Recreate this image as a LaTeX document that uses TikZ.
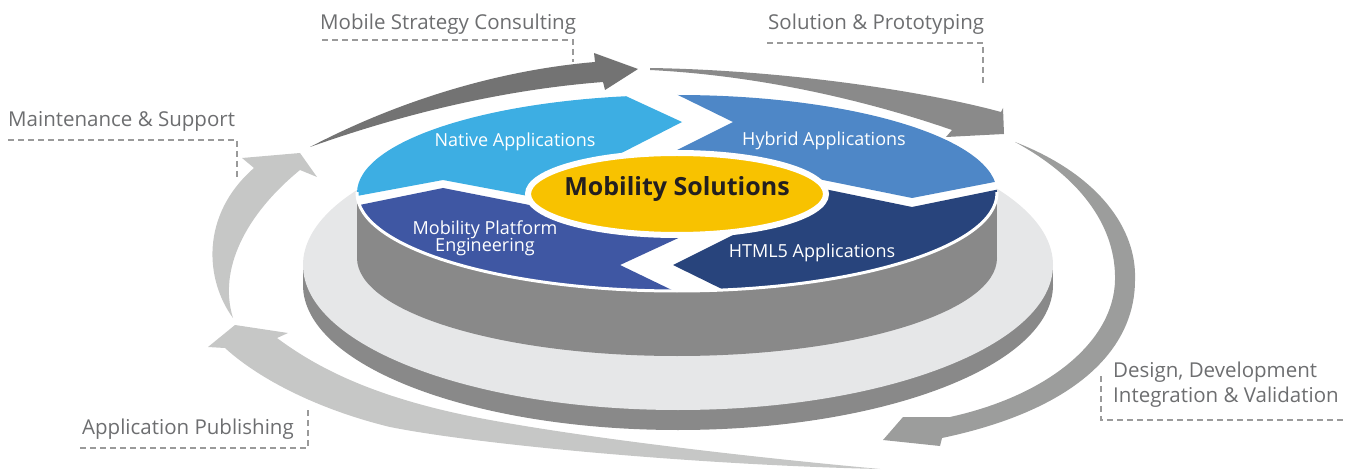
\documentclass[tikz,border=0pt]{standalone}
\usepackage{fontspec}
\setmainfont{Open Sans}
\definecolor{arrA}{HTML}{737373}
\definecolor{arrB}{HTML}{8A8A8A}
\definecolor{arrC}{HTML}{9C9D9C}
\definecolor{arrD}{HTML}{C6C7C6}
\definecolor{sidegray}{HTML}{898989}
\definecolor{topgray}{HTML}{E6E7E8}
\definecolor{native}{HTML}{3DAEE3}
\definecolor{hybrid}{HTML}{4E87C7}
\definecolor{mpe}{HTML}{3F57A3}
\definecolor{htmlc}{HTML}{28447C}
\definecolor{yel}{HTML}{F8C200}
\definecolor{lbl}{HTML}{6D6E70}
\definecolor{lead}{HTML}{9A9A9A}
\definecolor{dark}{HTML}{231F20}
\begin{document}
\begin{tikzpicture}[x=1pt,y=-1pt,
  steplabel/.style={text=lbl,inner sep=0pt,font=\fontsize{20.5}{25}\selectfont},
  seglabel/.style={text=white,inner sep=0pt,font=\fontsize{18}{18}\selectfont,align=center},
  leader/.style={lead,line width=2pt,dash pattern=on 6pt off 4pt}]
\useasboundingbox (0,0) rectangle (1354,470);

% ---------- cycle arrows ----------
\fill[arrA] (310,147) .. controls (400,100) and (500,70) .. (595,62)
  -- (594,53) -- (638,69) -- (605,90) -- (603,82)
  .. controls (500,90) and (400,115) .. (310,147) -- cycle;
\fill[arrB] (650,68) .. controls (780,70) and (920,90) .. (1001,112)
  -- (1003,108) -- (1004,134) -- (946,137) -- (952,130)
  .. controls (880,105) and (770,76) .. (650,70) -- cycle;
\fill[arrC] (1015,142) .. controls (1100,175) and (1137,230) .. (1135,280)
  .. controls (1135,350) and (1075,410) .. (942,438)
  -- (940,446) -- (883,440) -- (903,417) -- (950,417)
  .. controls (1050,395) and (1114,340) .. (1115,280)
  .. controls (1116,230) and (1085,180) .. (1015,142) -- cycle;
\fill[arrD] (880,469) .. controls (700,465) and (480,445) .. (390,427)
  .. controls (320,410) and (260,380) .. (225,348)
  -- (208,347) -- (235,325) -- (288,333) -- (277,338)
  .. controls (320,370) and (380,400) .. (490,420)
  .. controls (600,440) and (760,458) .. (880,469) -- cycle;
\fill[arrD] (233,318) .. controls (205,280) and (200,215) .. (254,168)
  -- (242,158) -- (300,153) -- (317,177) -- (300,170)
  .. controls (245,215) and (218,270) .. (233,318) -- cycle;

% ---------- lower platter ----------
\fill[sidegray] (303,265) rectangle (1053,285);
\fill[sidegray] (678,285) ellipse[x radius=375,y radius=145];
\fill[topgray] (678,265) ellipse[x radius=375,y radius=145];

% ---------- upper platter ----------
\fill[sidegray] (357,193) rectangle (997,258);
\fill[sidegray] (677,258) ellipse[x radius=320,y radius=98];
\begin{scope}
  \clip (677,193) ellipse[x radius=320,y radius=98];
  \fill[white] (340,80) rectangle (1010,300);
  \fill[native] (330,50) -- (526,50) -- (682,122) -- (600,164) -- (560,202) -- (443,180) -- (330,201) -- cycle;
  \fill[hybrid] (586,50) -- (1010,50) -- (1010,179) -- (912,198) -- (823,180) -- (790,173) -- (663,157) -- (733,122) -- cycle;
  \fill[htmlc] (1010,187) -- (1010,320) -- (785,320) -- (673,265) -- (727,238) -- (760,222) -- (800,184) -- (912,207) -- cycle;
  \fill[mpe] (330,211) -- (443,188) -- (560,211) -- (700,228) -- (620,265) -- (734,320) -- (330,320) -- cycle;
\end{scope}
\begin{scope}
  \clip (340,193) rectangle (1010,300);
  \draw[white,line width=3pt] (677,193) ellipse[x radius=320,y radius=98];
\end{scope}
\draw[white,line width=6pt,fill=yel] (677,194) ellipse[x radius=149,y radius=41];

% ---------- texts ----------
\node[inner sep=0pt,anchor=base,text=dark,font=\fontsize{25}{25}\selectfont\bfseries] (core) at (677,196) {Mobility Solutions};
\node[seglabel,anchor=base] (nat) at (515,147) {Native Applications};
\node[seglabel,anchor=base] (hyb) at (824,146) {Hybrid Applications};
\node[seglabel,anchor=base] (mpe1) at (485,235) {Mobility Platform};
\node[seglabel,anchor=base] (mpe2) at (485,252) {Engineering};
\node[seglabel,anchor=base] (htm) at (812,258) {HTML5 Applications};

\node[steplabel,anchor=base west] (msc) at (320,30) {Mobile Strategy Consulting};
\node[steplabel,anchor=base west] (sp) at (768,30) {Solution \& Prototyping};
\node[steplabel,anchor=base west] (ms) at (8,127) {Maintenance \& Support};
\node[steplabel,anchor=base west] (ap) at (82,434) {Application Publishing};
\node[steplabel,anchor=base west] (dd1) at (1113,377) {Design, Development};
\node[steplabel,anchor=base west] (dd2) at (1113,402) {Integration \& Validation};

% ---------- dashed leaders ----------
\coordinate (mscA) at (322,40); \coordinate (mscB) at (573,40); \coordinate (mscC) at (573,62);
\draw[leader] (mscA) -- (mscB) -- (mscC);
\coordinate (spA) at (767,43); \coordinate (spB) at (983,43); \coordinate (spC) at (983,83);
\draw[leader] (spA) -- (spB) -- (spC);
\coordinate (msA) at (8,140); \coordinate (msB) at (237,140); \coordinate (msC) at (237,180);
\draw[leader] (msA) -- (msB) -- (msC);
\coordinate (apA) at (80,448); \coordinate (apB) at (308,448); \coordinate (apC) at (308,408);
\draw[leader] (apA) -- (apB) -- (apC);
\coordinate (ddA) at (1101,376); \coordinate (ddB) at (1101,420); \coordinate (ddC) at (1343,420);
\draw[leader] (ddA) -- (ddB) -- (ddC);
\end{tikzpicture}
\end{document}
